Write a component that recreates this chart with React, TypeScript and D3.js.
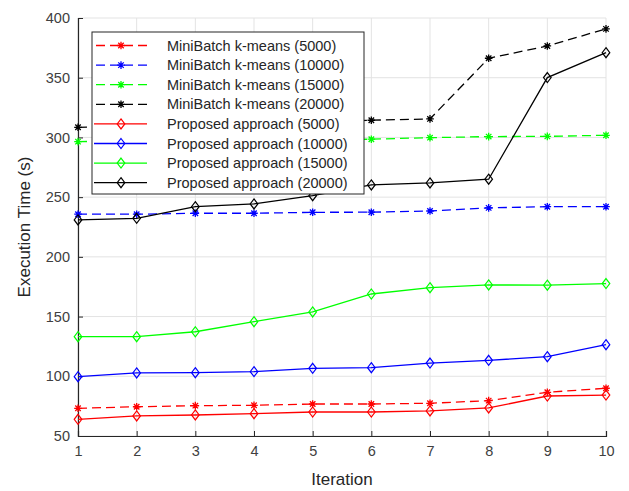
import React, { useRef, useEffect } from "react";
import * as d3 from "d3";

const iterations = [1, 2, 3, 4, 5, 6, 7, 8, 9, 10];
const yTicks = [50, 100, 150, 200, 250, 300, 350, 400];

const mb5000 = [73.2, 74.5, 75.4, 75.7, 76.8, 76.8, 77.4, 79.6, 86.6, 90];
const mb10000 = [235.7, 235.7, 236.5, 236.5, 237.3, 237.4, 238.4, 241, 242, 242];
const mb15000 = [296.5, 297, 297.5, 298, 298, 298.5, 299.8, 300.7, 300.9, 301.8];
const mb20000 = [308.5, 309, 310, 311, 313, 314.4, 315.5, 366.3, 376.6, 390.9];
const pa5000 = [64, 66.8, 67.6, 68.7, 70.1, 70.1, 71, 73.5, 83.5, 84.3];
const pa10000 = [99.7, 102.8, 103, 103.9, 106.7, 107.2, 111.1, 113.4, 116.4, 126.5];
const pa15000 = [133.2, 133.2, 137.3, 145.7, 153.9, 168.9, 174.2, 176.5, 176.3, 177.6];
const pa20000 = [230.9, 232.3, 242, 244.3, 251.2, 260.2, 261.9, 265, 350.1, 371];

const seriesNames = [
  "MiniBatch k-means (5000)",
  "MiniBatch k-means (10000)",
  "MiniBatch k-means (15000)",
  "MiniBatch k-means (20000)",
  "Proposed approach (5000)",
  "Proposed approach (10000)",
  "Proposed approach (15000)",
  "Proposed approach (20000)",
];
const seriesValues = [mb5000, mb10000, mb15000, mb20000, pa5000, pa10000, pa15000, pa20000];
const seriesColors = ["#ff0000", "#0000ff", "#00ff00", "#000000", "#ff0000", "#0000ff", "#00ff00", "#000000"];

const FONT = "'Liberation Sans', Arial, sans-serif";

export default function App() {
  const svgRef = useRef<SVGSVGElement | null>(null);

  useEffect(() => {
    const svg = d3.select(svgRef.current);
    svg.selectAll("*").remove();

    const margin = { top: 18, right: 23, bottom: 55, left: 78 };
    const width = 629;
    const height = 491;
    const w = width - margin.left - margin.right;
    const h = height - margin.top - margin.bottom;

    const x = d3.scaleLinear().domain([1, 10]).range([0, w]);
    const y = d3.scaleLinear().domain([50, 400]).range([h, 0]);

    const g = svg.append("g").attr("transform", `translate(${margin.left},${margin.top})`);

    // grid
    g.append("g")
      .selectAll("line")
      .data(iterations)
      .join("line")
      .attr("x1", (d) => x(d))
      .attr("x2", (d) => x(d))
      .attr("y1", 0)
      .attr("y2", h)
      .attr("stroke", "#e3e3e3")
      .attr("stroke-width", 1);
    g.append("g")
      .selectAll("line")
      .data(yTicks)
      .join("line")
      .attr("x1", 0)
      .attr("x2", w)
      .attr("y1", (d) => y(d))
      .attr("y2", (d) => y(d))
      .attr("stroke", "#e3e3e3")
      .attr("stroke-width", 1);

    // axes (MATLAB style, ticks inside)
    const xAxis = g
      .append("g")
      .attr("transform", `translate(0,${h})`)
      .call(d3.axisBottom(x).tickValues(iterations).tickSize(-5).tickPadding(10).tickFormat(d3.format("d")));
    const yAxis = g
      .append("g")
      .call(d3.axisLeft(y).tickValues(yTicks).tickSize(-5).tickPadding(8).tickFormat(d3.format("d")));
    [xAxis, yAxis].forEach((a) => {
      a.select(".domain").attr("stroke", "#262626").attr("stroke-width", 1.2);
      a.selectAll(".tick line").attr("stroke", "#262626");
      a.selectAll("text").attr("fill", "#404040").attr("font-size", 14.5).attr("font-family", FONT);
    });
    yAxis.selectAll("text").attr("dy", "0.32em");

    const line = d3
      .line<number>()
      .x((_, i) => x(iterations[i]))
      .y((d) => y(d));

    const star = (sel: any, color: string) => {
      const r = 3.8;
      const r2 = r * 0.72;
      sel
        .append("path")
        .attr(
          "d",
          `M${-r},0L${r},0M0,${-r}L0,${r}M${-r2},${-r2}L${r2},${r2}M${-r2},${r2}L${r2},${-r2}`
        )
        .attr("stroke", color)
        .attr("stroke-width", 1.3)
        .attr("fill", "none");
    };
    const diamond = (sel: any, color: string) => {
      sel
        .append("path")
        .attr("d", "M0,-5L3.8,0L0,5L-3.8,0Z")
        .attr("stroke", color)
        .attr("stroke-width", 1.2)
        .attr("fill", "none");
    };

    seriesValues.forEach((vals, si) => {
      const color = seriesColors[si];
      const dashed = si < 4;
      g.append("path")
        .datum(vals)
        .attr("d", line)
        .attr("fill", "none")
        .attr("stroke", color)
        .attr("stroke-width", 1.3)
        .attr("stroke-dasharray", dashed ? "9,5" : null);
      vals.forEach((v, i) => {
        const m = g.append("g").attr("transform", `translate(${x(iterations[i])},${y(v)})`);
        if (dashed) star(m, color);
        else diamond(m, color);
      });
    });

    // legend
    const lg = svg.append("g").attr("transform", "translate(92,32)");
    lg.append("rect")
      .attr("width", 272)
      .attr("height", 162)
      .attr("fill", "#ffffff")
      .attr("stroke", "#262626")
      .attr("stroke-width", 1);
    seriesNames.forEach((name, i) => {
      const cy = 13.5 + i * 19.6;
      const color = seriesColors[i];
      const dashed = i < 4;
      lg.append("line")
        .attr("x1", 2)
        .attr("x2", 55)
        .attr("y1", cy)
        .attr("y2", cy)
        .attr("stroke", color)
        .attr("stroke-width", 1.3)
        .attr("stroke-dasharray", dashed ? "9,5" : null)
        .attr("stroke-dashoffset", dashed ? -2 : null);
      const m = lg.append("g").attr("transform", `translate(29,${cy})`);
      if (dashed) star(m, color);
      else diamond(m, color);
      lg.append("text")
        .attr("x", 75)
        .attr("y", cy)
        .attr("dy", "0.35em")
        .attr("font-size", 14.5)
        .attr("font-family", FONT)
        .attr("fill", "#262626")
        .text(name);
    });

    // axis titles
    svg
      .append("text")
      .attr("x", margin.left + w / 2)
      .attr("y", 484.5)
      .attr("text-anchor", "middle")
      .attr("font-size", 17)
      .attr("font-family", FONT)
      .attr("fill", "#262626")
      .text("Iteration");
    svg
      .append("text")
      .attr("transform", `translate(30,${margin.top + h / 2}) rotate(-90)`)
      .attr("text-anchor", "middle")
      .attr("font-size", 17)
      .attr("font-family", FONT)
      .attr("fill", "#262626")
      .text("Execution Time (s)");
  }, []);

  return (
    <svg
      ref={svgRef}
      width={629}
      height={491}
      style={{ position: "absolute", left: 0, top: 0, background: "#ffffff" }}
    />
  );
}
